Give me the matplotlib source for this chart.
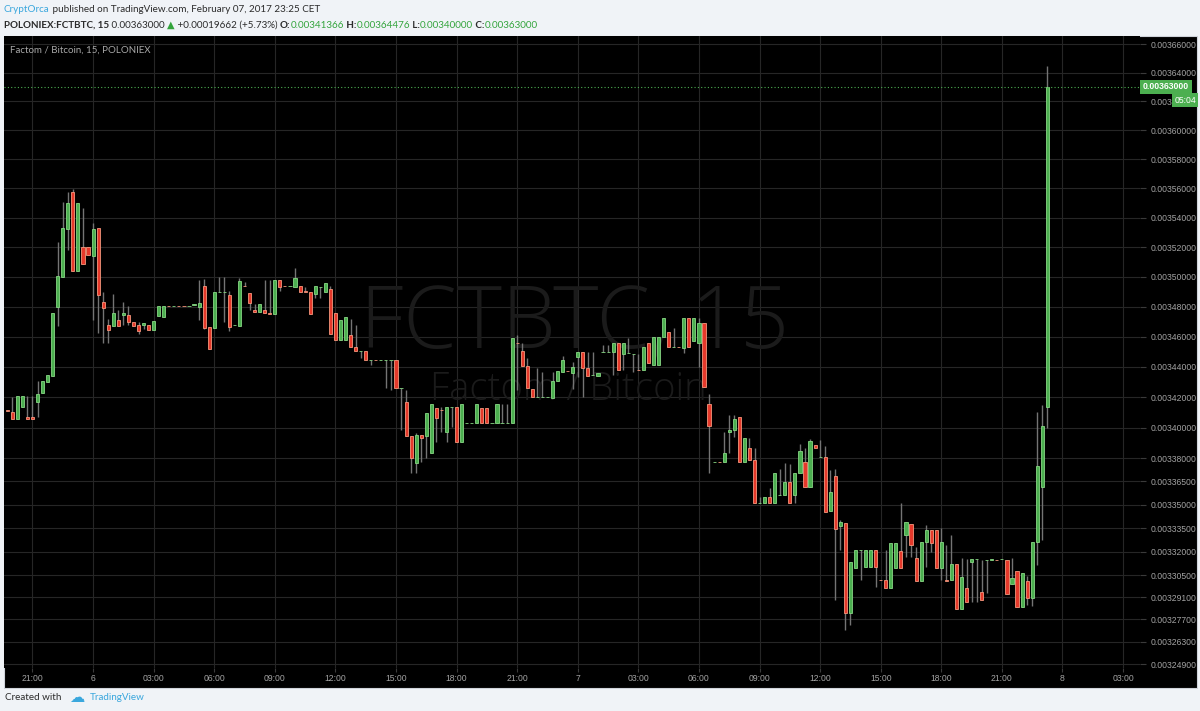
import numpy as np
import matplotlib
matplotlib.use("Agg")
import matplotlib.pyplot as plt
import matplotlib.patches as mpatches
import matplotlib.transforms as mtransforms
from matplotlib.ticker import FixedLocator, NullLocator

# 15 minute FCT/BTC bars, bar 0 = Feb 5 21:00, last bar = Feb 7 23:15
first_bar = -5

# prices in satoshi (1e-8 BTC)
opens = [
    341130, 341040, 340540, 341330, 340710, 340680, 341700, 342250, 343010, 343410,
    347990, 350000, 353240, 355760, 350400, 352020, 352020, 351420, 353270, 348280,
    346770, 346720, 347100, 347440, 347440, 346990, 346770, 346750, 346770, 346440,
    347390, 347320, 348040, 348030, 348040, 348040, 348030, 348080, 347990, 349370,
    346620, 346590, 348970, 348970, 348750, 346740, 346720, 349380, 348890, 347770,
    347620, 347770, 347590, 347500, 349780, 349380, 349370, 349330, 349370, 349060,
    348990, 348840, 349330, 348970, 349170, 347550, 345800, 345800, 346100, 345330,
    345040, 345040, 344450, 344450, 344440, 344440, 344440, 344450, 342580, 341700,
    339470, 337720, 339520, 339470, 338370, 341260, 341160, 339740, 341370, 341370,
    339080, 340320, 340320, 340320, 341300, 341300, 340320, 340320, 340320, 340320,
    340280, 345600, 345040, 344050, 342510, 341990, 341990, 341990, 341960, 343060,
    343670, 343720, 343610, 344620, 344990, 343900, 343450, 343390, 344990, 344990,
    344990, 345550, 344840, 344930, 344840, 343790, 343790, 345550, 344110, 344110,
    345950, 346280, 345330, 345330, 345220, 347220, 345720, 345550, 346880, 341530,
    337780, 337780, 337780, 339700, 339850, 340680, 337780, 338690, 337890, 335090,
    335090, 335520, 335090, 335630, 335630, 336490, 335630, 337050, 337780, 336120,
    338870, 338100, 338060, 334620, 336880, 333650, 333810, 328090, 330940, 332100,
    331040, 331040, 332100, 330200, 330190, 329670, 330940, 332060, 333060, 333740,
    331610, 330130, 332630, 333380, 333380, 330970, 330190, 330190, 331190, 328340,
    329670, 331360, 331510, 329450, 331460, 331490, 331480, 331500, 331460, 329920,
    330770, 328470, 330130, 329040, 332590, 336130, 341366,
]
highs = [
    341130, 342030, 342070, 342070, 342070, 342070, 343080, 343060, 343450, 347590,
    352360, 355080, 355760, 355930, 354970, 354630, 352020, 353610, 353270, 348990,
    347170, 348840, 347770, 348320, 348040, 346990, 346990, 346920, 346770, 347040,
    348040, 348040, 348040, 348040, 348040, 348040, 348040, 348170, 349780, 349830,
    346620, 348970, 350000, 350000, 349060, 346760, 349890, 349660, 348890, 348170,
    348170, 349780, 349780, 349780, 349780, 349380, 349380, 350570, 349370, 349330,
    348990, 349370, 349330, 349560, 349370, 347550, 347100, 347320, 347150, 346770,
    345040, 345040, 344450, 344450, 344450, 344450, 344450, 344450, 342580, 342470,
    339470, 339670, 339520, 340940, 341530, 341260, 341370, 341370, 341370, 341370,
    341530, 340320, 340320, 341530, 341300, 341300, 340320, 341530, 341530, 341530,
    345920, 346100, 345590, 344560, 342510, 343900, 343670, 341990, 343670, 343720,
    344710, 343720, 344300, 344990, 344990, 344990, 344990, 343570, 345440, 345440,
    345590, 345550, 345590, 345880, 344840, 344840, 345290, 345550, 345950, 345950,
    347220, 346280, 346550, 345330, 347220, 347220, 347220, 347220, 346880, 342180,
    337780, 337780, 339700, 340830, 340830, 340680, 339340, 339340, 338690, 335520,
    335520, 336060, 337070, 337290, 337680, 337630, 337050, 338910, 338670, 339240,
    338870, 339190, 338800, 337240, 337310, 334020, 333810, 331360, 332100, 332100,
    332100, 332100, 332100, 330200, 332100, 332570, 332570, 335090, 333910, 333740,
    332310, 332630, 333700, 333380, 333380, 333490, 332420, 333060, 331190, 331570,
    331510, 331510, 331510, 331460, 331460, 331520, 331480, 331510, 331460, 331570,
    330770, 330620, 330450, 332590, 341050, 341470, 364476,
]
lows = [
    341090, 340540, 340540, 341330, 340540, 340540, 340710, 342250, 343010, 343410,
    346700, 350000, 351800, 350400, 350400, 350860, 351460, 347100, 346220, 345590,
    345590, 346720, 346720, 346770, 346770, 346720, 346150, 346480, 346440, 346440,
    347390, 347320, 348030, 348030, 348030, 348030, 348030, 348080, 347100, 346500,
    345150, 346590, 348970, 346950, 346350, 346740, 346720, 349370, 347770, 347660,
    347620, 347550, 347500, 347500, 349060, 349370, 349370, 349330, 348990, 348990,
    347500, 348550, 348550, 348970, 346150, 345800, 345800, 345800, 345290, 345040,
    344560, 344450, 344110, 344440, 344440, 342580, 342470, 342580, 339850, 339470,
    337070, 337070, 337780, 338040, 338370, 339080, 339740, 339080, 340060, 339080,
    339080, 340320, 340320, 340320, 340320, 340320, 340320, 340320, 340320, 340320,
    340280, 342470, 344050, 342580, 341990, 341990, 341990, 341990, 341960, 343060,
    343670, 343710, 342510, 343340, 342030, 343390, 343450, 343390, 344990, 344990,
    343450, 343790, 343790, 344930, 343670, 343780, 343790, 344230, 344110, 344110,
    345950, 345290, 345330, 345320, 344930, 345290, 345720, 344000, 342680, 337070,
    337780, 337770, 337780, 338330, 339410, 337780, 337780, 337890, 335090, 335090,
    335090, 335090, 335090, 335630, 335630, 335090, 335090, 337050, 336160, 336120,
    338690, 338100, 334550, 334620, 328930, 332100, 327040, 327350, 330940, 330190,
    331040, 331040, 329770, 330190, 329670, 329670, 330940, 330940, 331680, 331680,
    330130, 330130, 331040, 331990, 330970, 330190, 330110, 330190, 328340, 328340,
    328820, 328820, 328820, 328930, 329350, 331490, 331460, 331500, 329290, 329920,
    328500, 328470, 328610, 328570, 331120, 332710, 340000,
]
closes = [
    341090, 340540, 342070, 342070, 340540, 340540, 342200, 343060, 343450, 347590,
    350050, 353270, 355010, 350400, 354970, 350860, 351460, 353220, 348770, 347920,
    346440, 347550, 346720, 347590, 346990, 346720, 346390, 346920, 346440, 347040,
    348040, 348040, 348030, 348040, 348030, 348030, 348040, 348170, 348220, 346590,
    345150, 348970, 348970, 348970, 346660, 346760, 349710, 349370, 348220, 347660,
    348170, 347550, 347500, 349780, 349330, 349370, 349380, 349930, 348990, 348990,
    347500, 349370, 349330, 349560, 346150, 345800, 347100, 347320, 345290, 345040,
    345040, 344450, 344450, 344440, 344450, 344450, 344450, 342580, 342580, 339470,
    338040, 339520, 339300, 340940, 341530, 340610, 341150, 341370, 341370, 339080,
    341530, 340320, 340320, 341530, 340320, 340320, 340320, 341530, 340320, 340320,
    345920, 345590, 344050, 342580, 341990, 341990, 341990, 341990, 343060, 343720,
    344450, 343710, 343960, 344990, 343900, 343390, 343450, 343570, 344990, 344990,
    345590, 343790, 345590, 344930, 344840, 343780, 345290, 344230, 345950, 345950,
    347220, 345290, 345330, 345320, 347220, 345290, 347220, 346880, 342680, 340130,
    337780, 337770, 338330, 339850, 340540, 337780, 339340, 337890, 335090, 335090,
    335520, 335090, 337070, 335630, 336490, 335090, 337050, 338500, 336160, 339150,
    338690, 338100, 334550, 335800, 333440, 333910, 328090, 331360, 332100, 332100,
    332100, 332100, 331040, 330190, 329670, 332570, 332570, 330940, 333910, 332420,
    330130, 332630, 333380, 332570, 330970, 332590, 330110, 331190, 328340, 330360,
    328820, 331510, 331510, 328930, 331460, 331520, 331460, 331510, 329290, 330340,
    328500, 330620, 329040, 332590, 337500, 340110, 363000,
]

# right price scale (log) and time scale
price_ticks = [0.00324900, 0.00326300, 0.00327700, 0.00329100, 0.00330500,
               0.00332000, 0.00333500, 0.00335000, 0.00336500, 0.00338000,
               0.00340000, 0.00342000, 0.00344000, 0.00346000, 0.00348000,
               0.00350000, 0.00352000, 0.00354000, 0.00356000, 0.00358000,
               0.00360000, 0.00362000, 0.00364000, 0.00366000]
time_labels = ["21:00", "6", "03:00", "06:00", "09:00", "12:00", "15:00", "18:00",
               "21:00", "7", "03:00", "06:00", "09:00", "12:00", "15:00", "18:00",
               "21:00", "8", "03:00"]
bars_per_label = 12  # 3 hours of 15 min bars

W, H = 1200, 711
BG = "#f0f3f7"
GREEN = "#4caf50"
GREEN_EDGE = "#86d683"
RED = "#e5392b"
RED_EDGE = "#f5967c"
WICK = "#747474"
GRID = "#262626"
AXIS_TXT = "#a3a3a3"
HDR_GREEN = "#33a43c"
HDR_DARK = "#2b2b2b"
BLUE = "#3aa7dd"
HDR_FONT = ["Lato", "DejaVu Sans"]


def fx(px):
    return px / W


def fy(py):
    return 1 - py / H


fig = plt.figure(figsize=(W / 100, H / 100), dpi=100, facecolor=BG)

# black chart panel (plot + scales), drawn under the axes
fig.patches.append(mpatches.Rectangle(
    (fx(4), fy(688)), fx(1197) - fx(4), fy(36) - fy(688),
    transform=fig.transFigure, facecolor="black", edgecolor="#cfd3da",
    lw=0.8, zorder=-5))

ax = fig.add_axes([fx(4), fy(668), fx(1140) - fx(4), fy(36) - fy(668)])
ax.set_facecolor("black")
ax.set_zorder(1)

x = np.arange(first_bar, first_bar + len(opens))
o = np.array(opens) / 1e8
h = np.array(highs) / 1e8
l = np.array(lows) / 1e8
c = np.array(closes) / 1e8
up = c >= o

ax.set_yscale("log")
ax.set_ylim(0.00324654, 0.00366563)
ax.set_xlim(-5.64, 219.35)

ax.vlines(x, l, h, color=WICK, lw=1.0, zorder=2)
lo_body = np.minimum(o, c)
hi_body = np.maximum(o, c)
ax.bar(x[up], (hi_body - lo_body)[up], bottom=lo_body[up], width=0.62,
       color=GREEN, edgecolor=GREEN_EDGE, lw=0.6, zorder=3)
ax.bar(x[~up], (hi_body - lo_body)[~up], bottom=lo_body[~up], width=0.62,
       color=RED, edgecolor=RED_EDGE, lw=0.6, zorder=3)

# grid and scales
ax.yaxis.set_major_locator(FixedLocator(price_ticks))
ax.yaxis.set_minor_locator(NullLocator())
ax.set_yticklabels([f"{p:.8f}" for p in price_ticks])
ax.xaxis.set_major_locator(FixedLocator(np.arange(len(time_labels)) * bars_per_label))
ax.set_xticklabels(time_labels)
ax.yaxis.tick_right()
ax.grid(True, color=GRID, lw=0.8, zorder=0)
ax.set_axisbelow(True)
for s in ax.spines.values():
    s.set_visible(False)
ax.tick_params(axis="y", colors="#3a3a3a", labelcolor=AXIS_TXT, length=4,
               width=0.8, pad=3.5, labelsize=6.2)
ax.tick_params(axis="x", colors="#3a3a3a", labelcolor=AXIS_TXT, length=3,
               width=0.8, pad=1, labelsize=6.2)
for t in ax.get_xticklabels() + ax.get_yticklabels():
    t.set_family("Liberation Sans")

# watermark
ax.text(0.5026, 0.5427, "FCTBTC, 15", transform=ax.transAxes, ha="center",
        va="center", fontsize=62, color="#1b1b1b", family="Open Sans",
        fontweight="light", zorder=1)
ax.text(0.4965, 0.44, "Factom / Bitcoin", transform=ax.transAxes, ha="center",
        va="center", fontsize=27.5, color="#1b1b1b", family="Open Sans",
        fontweight="light", zorder=1)

ax.text(0.005, 0.985, "Factom / Bitcoin, 15, POLONIEX", transform=ax.transAxes,
        ha="left", va="top", fontsize=7, color="#a8a8a8", family="Lato")

# last price line and labels
last = c[-1]
ax.axhline(last, color=GREEN, lw=0.8, ls=(0, (1, 2)), zorder=4)
tr = mtransforms.blended_transform_factory(ax.transAxes, ax.transData)
ax.annotate(f"{last:.8f}", xy=(1, last), xycoords=tr, xytext=(2.2, 0),
            textcoords="offset points", ha="left", va="center", fontsize=6.2,
            color="white", fontweight="bold", family="Liberation Sans",
            bbox=dict(boxstyle="square,pad=0.3", fc=GREEN, ec="none"),
            annotation_clip=False, zorder=6)
ax.annotate("05:04", xy=(1, last), xycoords=tr, xytext=(40.5, -9.5),
            textcoords="offset points", ha="right", va="center", fontsize=6.2,
            color="white", family="Liberation Sans",
            bbox=dict(boxstyle="square,pad=0.25", fc=GREEN, ec="none"),
            annotation_clip=False, zorder=6)

# header and footer text runs
renderer = fig.canvas.get_renderer()


def draw_runs(runs, px, py, size):
    xf = fx(px)
    for s, color, weight in runs:
        t = fig.text(xf, fy(py), s, color=color, fontweight=weight, fontsize=size,
                     ha="left", va="center", family=HDR_FONT)
        xf += t.get_window_extent(renderer).width / W


draw_runs([("CryptOrca", BLUE, "normal"),
           (" published on TradingView.com, February 07, 2017 23:25 CET", HDR_DARK, "normal")],
          4, 9, 7.1)
draw_runs([("POLONIEX:FCTBTC, 15", HDR_DARK, "bold"),
           (f" {closes[-1] / 1e8:.8f} ", HDR_DARK, "normal"),
           ("▲", HDR_GREEN, "normal"),
           (" +0.00019662 (+5.73%) ", HDR_DARK, "normal"),
           ("O:", HDR_DARK, "bold"), (f"{opens[-1] / 1e8:.8f}", HDR_GREEN, "normal"),
           (" H:", HDR_DARK, "bold"), (f"{highs[-1] / 1e8:.8f}", HDR_GREEN, "normal"),
           (" L:", HDR_DARK, "bold"), (f"{lows[-1] / 1e8:.8f}", HDR_GREEN, "normal"),
           (" C:", HDR_DARK, "bold"), (f"{closes[-1] / 1e8:.8f}", HDR_GREEN, "normal")],
          4, 25, 7.1)
draw_runs([("Created with", HDR_DARK, "normal")], 5, 697, 7.1)
fig.text(fx(77), fy(697), "☁", color=BLUE, fontsize=11, ha="center", va="center",
         family="DejaVu Sans")
draw_runs([("TradingView", BLUE, "normal")], 90, 697, 7.1)

fig.savefig("out.png", dpi=100, facecolor=fig.get_facecolor())
